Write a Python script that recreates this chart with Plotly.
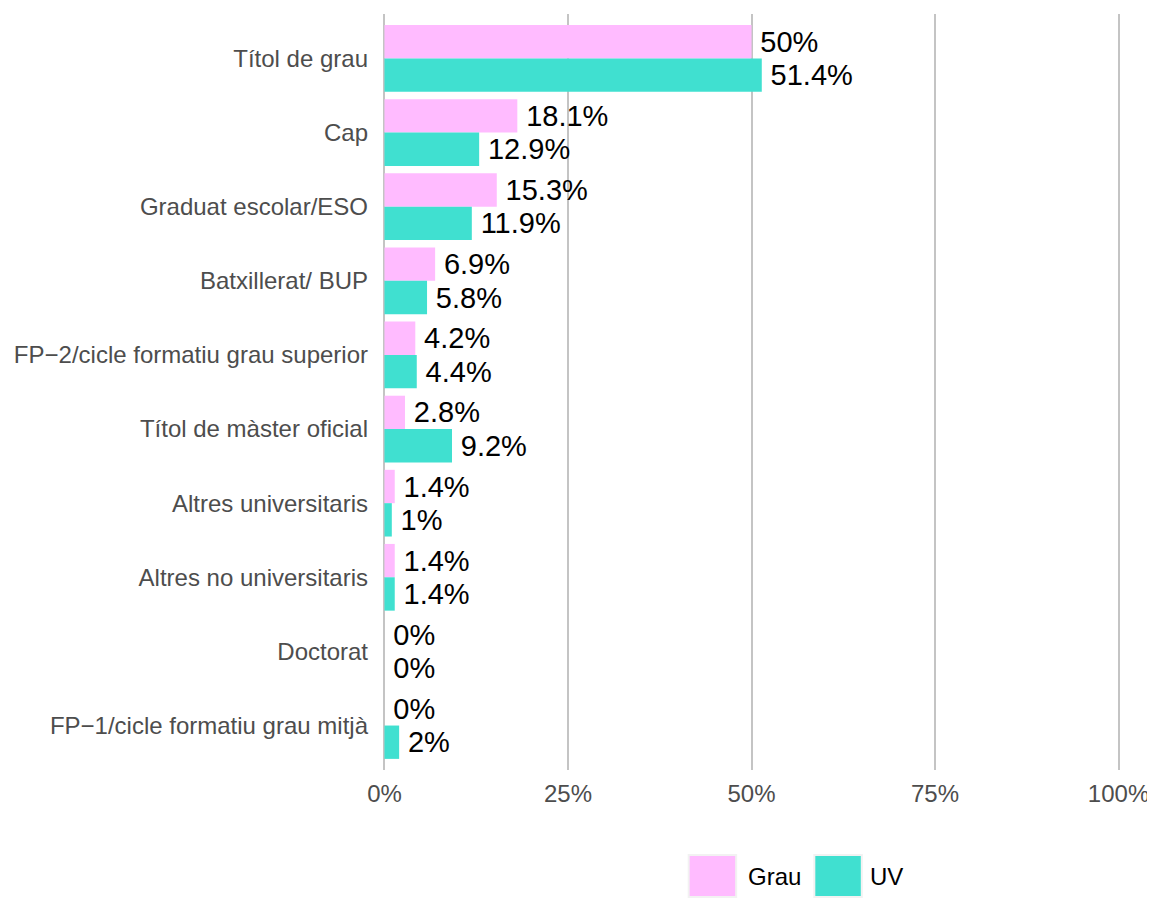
import plotly.graph_objects as go

# data (percentages)
categories = ["Títol de grau", "Cap", "Graduat escolar/ESO", "Batxillerat/ BUP",
              "FP−2/cicle formatiu grau superior", "Títol de màster oficial",
              "Altres universitaris", "Altres no universitaris", "Doctorat",
              "FP−1/cicle formatiu grau mitjà"]
grau = [50, 18.1, 15.3, 6.9, 4.2, 2.8, 1.4, 1.4, 0, 0]
uv = [51.4, 12.9, 11.9, 5.8, 4.4, 9.2, 1, 1.4, 0, 2]
x_ticks = [0, 25, 50, 75, 100]
series = [("Grau", grau, "#FFBBFF"), ("UV", uv, "#40E0D0")]

FONT = "Liberation Sans, Arial, sans-serif"
# page body has an 8px margin, so the figure is a bit smaller than the window
W, H = 1147, 906
L, R, T, B = 368, 34, 6, 144
PW, PH = W - L - R, H - T - B


def px_x(x):
    # pixel -> paper x
    return (x - L) / PW


def px_y(y):
    # pixel -> paper y
    return (H - B - y) / PH


fig = go.Figure()
for name, vals, col in series:
    fig.add_trace(go.Bar(
        y=categories, x=vals, orientation="h", name=name,
        marker=dict(color=col, line=dict(width=0)),
        text=["\u2009" + f"{v:g}%" for v in vals],
        textposition="outside", cliponaxis=False, constraintext="none",
        textfont=dict(family=FONT, size=29, color="black"),
        showlegend=False,
    ))

# legend drawn by hand so the keys have ggplot-like size
legend_items = [("Grau", "#FFBBFF", 677, 735), ("UV", "#40E0D0", 804, 858)]
for name, col, kx, tx in legend_items:
    fig.add_shape(type="rect", xref="paper", yref="paper",
                  x0=px_x(kx), x1=px_x(kx + 48), y0=px_y(847), y1=px_y(889),
                  fillcolor=col, line=dict(color="#F2F2F2", width=2))
    fig.add_annotation(xref="paper", yref="paper", x=px_x(tx), y=px_y(868),
                       xanchor="left", yanchor="middle", showarrow=False,
                       text=name, font=dict(family=FONT, size=24, color="black"))

fig.update_layout(
    width=W, height=H,
    margin=dict(l=L, r=R, t=T, b=B),
    barmode="group", bargap=0.1, bargroupgap=0,
    plot_bgcolor="white", paper_bgcolor="white",
    font=dict(family=FONT),
    xaxis=dict(range=[-0.2, 100.2], tickvals=x_ticks,
               ticktext=[f"{t}%" for t in x_ticks],
               showgrid=True, gridcolor="#C4C4C4", gridwidth=2,
               zeroline=False, showline=False, ticks="",
               ticklabelstandoff=7,
               tickfont=dict(family=FONT, size=24, color="#4D4D4D")),
    yaxis=dict(type="category", categoryorder="array", categoryarray=categories,
               range=[9.6, -0.6], showgrid=False, zeroline=False,
               showline=False, ticks="", ticklabelstandoff=14,
               tickfont=dict(family=FONT, size=24, color="#4D4D4D")),
)

fig.write_html("out.html")
